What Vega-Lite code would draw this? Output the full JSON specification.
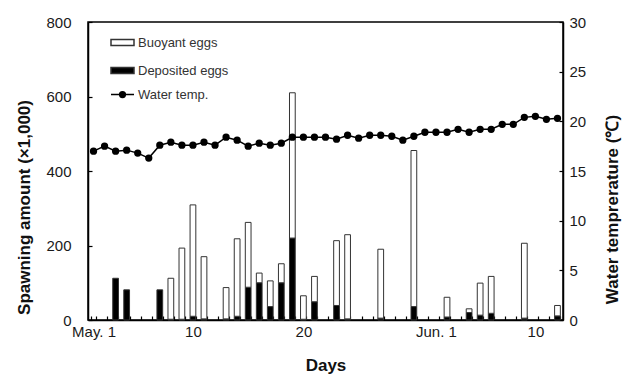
{
  "$schema": "https://vega.github.io/schema/vega-lite/v6.json",
  "width": 475,
  "height": 298,
  "autosize": {"type": "none"},
  "padding": {"left": 88, "top": 22, "right": 63, "bottom": 55},
  "config": {
    "font": "Liberation Sans",
    "view": {"stroke": "black", "strokeWidth": 1.5},
    "axis": {
      "domainColor": "black", "domainWidth": 1.5,
      "tickColor": "black", "tickWidth": 1.2,
      "grid": false,
      "labelFont": "Liberation Sans", "labelFontSize": 15, "labelColor": "#1a1a1a",
      "titleFont": "Liberation Sans", "titleFontSize": 17, "titleFontWeight": "bold", "titleColor": "#111"
    },
    "legend": {"labelFont": "Liberation Sans", "labelFontSize": 13, "labelColor": "#333"}
  },
  "datasets": {
    "bars": [
      {"day": 3, "type": "Deposited eggs", "amount": 112},
      {"day": 4, "type": "Deposited eggs", "amount": 81},
      {"day": 7, "type": "Deposited eggs", "amount": 81},
      {"day": 8, "type": "Deposited eggs", "amount": 2},
      {"day": 8, "type": "Buoyant eggs", "amount": 110},
      {"day": 9, "type": "Deposited eggs", "amount": 2},
      {"day": 9, "type": "Buoyant eggs", "amount": 191},
      {"day": 10, "type": "Deposited eggs", "amount": 10},
      {"day": 10, "type": "Buoyant eggs", "amount": 299},
      {"day": 11, "type": "Deposited eggs", "amount": 3},
      {"day": 11, "type": "Buoyant eggs", "amount": 167},
      {"day": 13, "type": "Deposited eggs", "amount": 3},
      {"day": 13, "type": "Buoyant eggs", "amount": 84},
      {"day": 14, "type": "Deposited eggs", "amount": 10},
      {"day": 14, "type": "Buoyant eggs", "amount": 208},
      {"day": 15, "type": "Deposited eggs", "amount": 88},
      {"day": 15, "type": "Buoyant eggs", "amount": 174},
      {"day": 16, "type": "Deposited eggs", "amount": 100},
      {"day": 16, "type": "Buoyant eggs", "amount": 26},
      {"day": 17, "type": "Deposited eggs", "amount": 36},
      {"day": 17, "type": "Buoyant eggs", "amount": 69},
      {"day": 18, "type": "Deposited eggs", "amount": 100},
      {"day": 18, "type": "Buoyant eggs", "amount": 51},
      {"day": 19, "type": "Deposited eggs", "amount": 220},
      {"day": 19, "type": "Buoyant eggs", "amount": 390},
      {"day": 20, "type": "Deposited eggs", "amount": 2},
      {"day": 20, "type": "Buoyant eggs", "amount": 63},
      {"day": 21, "type": "Deposited eggs", "amount": 49},
      {"day": 21, "type": "Buoyant eggs", "amount": 68},
      {"day": 23, "type": "Deposited eggs", "amount": 39},
      {"day": 23, "type": "Buoyant eggs", "amount": 174},
      {"day": 24, "type": "Deposited eggs", "amount": 3},
      {"day": 24, "type": "Buoyant eggs", "amount": 226},
      {"day": 27, "type": "Deposited eggs", "amount": 5},
      {"day": 27, "type": "Buoyant eggs", "amount": 185},
      {"day": 30, "type": "Deposited eggs", "amount": 36},
      {"day": 30, "type": "Buoyant eggs", "amount": 419},
      {"day": 33, "type": "Deposited eggs", "amount": 8},
      {"day": 33, "type": "Buoyant eggs", "amount": 53},
      {"day": 35, "type": "Deposited eggs", "amount": 20},
      {"day": 35, "type": "Buoyant eggs", "amount": 10},
      {"day": 36, "type": "Deposited eggs", "amount": 13},
      {"day": 36, "type": "Buoyant eggs", "amount": 86},
      {"day": 37, "type": "Deposited eggs", "amount": 18},
      {"day": 37, "type": "Buoyant eggs", "amount": 99},
      {"day": 40, "type": "Deposited eggs", "amount": 5},
      {"day": 40, "type": "Buoyant eggs", "amount": 201},
      {"day": 43, "type": "Deposited eggs", "amount": 11},
      {"day": 43, "type": "Buoyant eggs", "amount": 28}
    ],
    "temp": [
      {"day": 1, "temp": 17.0}, {"day": 2, "temp": 17.5}, {"day": 3, "temp": 17.0},
      {"day": 4, "temp": 17.1}, {"day": 5, "temp": 16.8}, {"day": 6, "temp": 16.3},
      {"day": 7, "temp": 17.6}, {"day": 8, "temp": 17.9}, {"day": 9, "temp": 17.6},
      {"day": 10, "temp": 17.6}, {"day": 11, "temp": 17.9}, {"day": 12, "temp": 17.6},
      {"day": 13, "temp": 18.4}, {"day": 14, "temp": 18.1}, {"day": 15, "temp": 17.5},
      {"day": 16, "temp": 17.8}, {"day": 17, "temp": 17.6}, {"day": 18, "temp": 17.8},
      {"day": 19, "temp": 18.4}, {"day": 20, "temp": 18.4}, {"day": 21, "temp": 18.4},
      {"day": 22, "temp": 18.4}, {"day": 23, "temp": 18.2}, {"day": 24, "temp": 18.6},
      {"day": 25, "temp": 18.3}, {"day": 26, "temp": 18.6}, {"day": 27, "temp": 18.6},
      {"day": 28, "temp": 18.5}, {"day": 29, "temp": 18.1}, {"day": 30, "temp": 18.5},
      {"day": 31, "temp": 18.9}, {"day": 32, "temp": 18.9}, {"day": 33, "temp": 18.9},
      {"day": 34, "temp": 19.2}, {"day": 35, "temp": 18.9}, {"day": 36, "temp": 19.2},
      {"day": 37, "temp": 19.2}, {"day": 38, "temp": 19.7}, {"day": 39, "temp": 19.7},
      {"day": 40, "temp": 20.4}, {"day": 41, "temp": 20.5}, {"day": 42, "temp": 20.2},
      {"day": 43, "temp": 20.3}
    ]
  },
  "encoding": {
    "x": {
      "field": "day", "type": "ordinal",
      "scale": {"paddingInner": 0.48, "paddingOuter": 0.24},
      "axis": {
        "title": "Days", "titleFontSize": 17,
        "labelAngle": 0, "labelOverlap": false,
        "labelExpr": "datum.value == 1 ? 'May. 1' : datum.value == 10 ? '10' : datum.value == 20 ? '20' : datum.value == 32 ? 'Jun. 1' : datum.value == 41 ? '10' : ''",
        "tickBand": "extent", "tickSize": -4, "labelPadding": 8, "titlePadding": 18
      }
    }
  },
  "layer": [
    {
      "data": {"name": "bars"},
      "mark": {"type": "bar", "stroke": "#333", "strokeWidth": 1},
      "encoding": {
        "y": {
          "field": "amount", "type": "quantitative", "stack": "zero",
          "scale": {"domain": [0, 800]},
          "axis": {"title": "Spawning amount (×1,000)", "values": [0, 200, 400, 600, 800], "tickSize": -4, "labelPadding": 21, "titlePadding": 12, "titleY": 185}
        },
        "fill": {
          "field": "type", "type": "nominal",
          "scale": {"domain": ["Buoyant eggs", "Deposited eggs"], "range": ["white", "black"]},
          "legend": {
            "title": null, "orient": "none", "legendX": 22, "legendY": 8,
            "symbolType": "M-1,-0.26H1V0.26H-1Z", "symbolSize": 529,
            "rowPadding": 8, "labelOffset": 3,
            "encode": {"symbols": {"update": {"stroke": {"value": "#333"}, "strokeWidth": {"value": 1}}}}
          }
        },
        "order": {"field": "type", "sort": "descending"}
      }
    },
    {
      "data": {"name": "temp"},
      "mark": {"type": "line", "strokeWidth": 1.5, "point": {"filled": true, "size": 28, "color": "black"}},
      "encoding": {
        "y": {
          "field": "temp", "type": "quantitative",
          "scale": {"domain": [0, 30]},
          "axis": {"orient": "right", "title": "Water temprerature (℃)", "values": [0, 5, 10, 15, 20, 25, 30], "tickSize": -4, "labelPadding": 10, "titlePadding": 36, "titleAngle": 270, "titleY": 187}
        },
        "stroke": {
          "datum": "Water temp.",
          "scale": {"range": ["black"]},
          "legend": {
            "title": null, "orient": "none", "legendX": 22, "legendY": 60,
            "symbolType": "M-1,0H1M-0.25,0A0.25,0.25,0,1,1,0.25,0A0.25,0.25,0,1,1,-0.25,0Z",
            "symbolSize": 529, "symbolStrokeWidth": 1.5, "labelOffset": 3,
            "encode": {"symbols": {"update": {"fill": {"value": "black"}, "stroke": {"value": "black"}}}}
          }
        }
      }
    }
  ],
  "resolve": {"scale": {"y": "independent"}}
}
